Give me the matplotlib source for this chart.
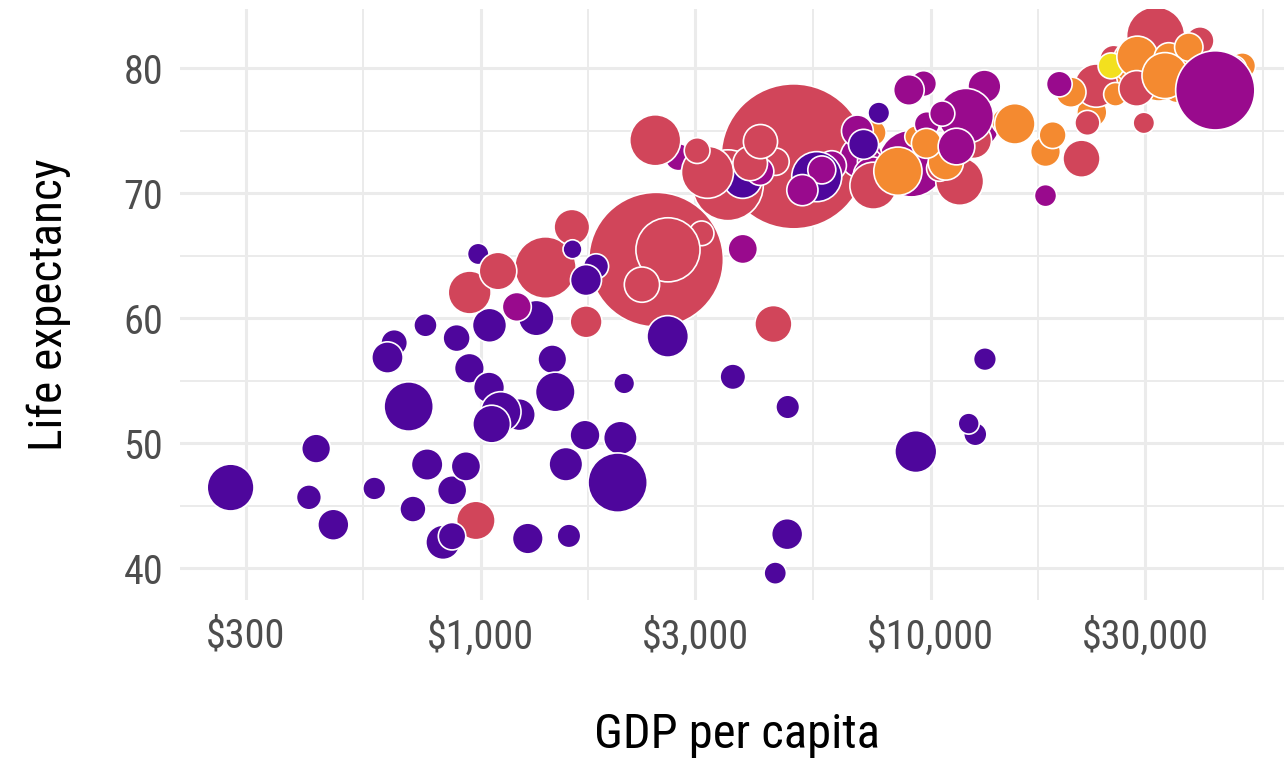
import matplotlib.pyplot as plt
import matplotlib.ticker as mticker
import numpy as np

plt.rcParams['font.family'] = ['Roboto Condensed', 'Liberation Sans Narrow', 'DejaVu Sans']

# gapminder 2007, alphabetical by country (this is also the drawing order)
country = ["Afghanistan", "Albania", "Algeria", "Angola", "Argentina", "Australia", "Austria",
           "Bahrain", "Bangladesh", "Belgium", "Benin", "Bolivia", "Bosnia and Herzegovina",
           "Botswana", "Brazil", "Bulgaria", "Burkina Faso", "Burundi", "Cambodia", "Cameroon",
           "Canada", "Central African Republic", "Chad", "Chile", "China", "Colombia", "Comoros",
           "Congo, Dem. Rep.", "Congo, Rep.", "Costa Rica", "Cote d'Ivoire", "Croatia", "Cuba",
           "Czech Republic", "Denmark", "Djibouti", "Dominican Republic", "Ecuador", "Egypt",
           "El Salvador", "Equatorial Guinea", "Eritrea", "Ethiopia", "Finland", "France", "Gabon",
           "Gambia", "Germany", "Ghana", "Greece", "Guatemala", "Guinea", "Guinea-Bissau", "Haiti",
           "Honduras", "Hong Kong, China", "Hungary", "Iceland", "India", "Indonesia", "Iran", "Iraq",
           "Ireland", "Israel", "Italy", "Jamaica", "Japan", "Jordan", "Kenya", "Korea, Dem. Rep.",
           "Korea, Rep.", "Kuwait", "Lebanon", "Lesotho", "Liberia", "Libya", "Madagascar", "Malawi",
           "Malaysia", "Mali", "Mauritania", "Mauritius", "Mexico", "Mongolia", "Montenegro",
           "Morocco", "Mozambique", "Myanmar", "Namibia", "Nepal", "Netherlands", "New Zealand",
           "Nicaragua", "Niger", "Nigeria", "Norway", "Oman", "Pakistan", "Panama", "Paraguay", "Peru",
           "Philippines", "Poland", "Portugal", "Puerto Rico", "Reunion", "Romania", "Rwanda",
           "Sao Tome and Principe", "Saudi Arabia", "Senegal", "Serbia", "Sierra Leone", "Singapore",
           "Slovak Republic", "Slovenia", "Somalia", "South Africa", "Spain", "Sri Lanka", "Sudan",
           "Swaziland", "Sweden", "Switzerland", "Syria", "Taiwan", "Tanzania", "Thailand", "Togo",
           "Trinidad and Tobago", "Tunisia", "Turkey", "Uganda", "United Kingdom", "United States",
           "Uruguay", "Venezuela", "Vietnam", "West Bank and Gaza", "Yemen, Rep.", "Zambia", "Zimbabwe"]

continent = ["Asia", "Europe", "Africa", "Africa", "Americas", "Oceania", "Europe",
             "Asia", "Asia", "Europe", "Africa", "Americas", "Europe",
             "Africa", "Americas", "Europe", "Africa", "Africa", "Asia", "Africa",
             "Americas", "Africa", "Africa", "Americas", "Asia", "Americas", "Africa",
             "Africa", "Africa", "Americas", "Africa", "Europe", "Americas",
             "Europe", "Europe", "Africa", "Americas", "Americas", "Africa",
             "Americas", "Africa", "Africa", "Africa", "Europe", "Europe", "Africa",
             "Africa", "Europe", "Africa", "Europe", "Americas", "Africa", "Africa", "Americas",
             "Americas", "Asia", "Europe", "Europe", "Asia", "Asia", "Asia", "Asia",
             "Europe", "Asia", "Europe", "Americas", "Asia", "Asia", "Africa", "Asia",
             "Asia", "Asia", "Asia", "Africa", "Africa", "Africa", "Africa", "Africa",
             "Asia", "Africa", "Africa", "Africa", "Americas", "Asia", "Europe",
             "Africa", "Africa", "Asia", "Africa", "Asia", "Europe", "Oceania",
             "Americas", "Africa", "Africa", "Europe", "Asia", "Asia", "Americas", "Americas", "Americas",
             "Asia", "Europe", "Europe", "Americas", "Africa", "Europe", "Africa",
             "Africa", "Asia", "Africa", "Europe", "Africa", "Asia",
             "Europe", "Europe", "Africa", "Africa", "Europe", "Asia", "Africa",
             "Africa", "Europe", "Europe", "Asia", "Asia", "Africa", "Asia", "Africa",
             "Americas", "Africa", "Europe", "Africa", "Europe", "Americas",
             "Americas", "Americas", "Asia", "Asia", "Asia", "Africa", "Africa"]

life_exp = [43.828, 76.423, 72.301, 42.731, 75.32, 81.235, 79.829,
            75.635, 64.062, 79.441, 56.728, 65.554, 74.852,
            50.728, 72.39, 73.005, 52.295, 49.58, 59.723, 50.43,
            80.653, 44.741, 50.651, 78.553, 72.961, 72.889, 65.152,
            46.462, 55.322, 78.782, 48.328, 75.748, 78.273,
            76.486, 78.332, 54.791, 72.235, 74.994, 71.338,
            71.878, 51.579, 58.04, 52.947, 79.313, 80.657, 56.735,
            59.448, 79.406, 60.022, 79.483, 70.259, 56.007, 46.388, 60.916,
            70.198, 82.208, 73.338, 81.757, 64.698, 70.65, 70.964, 59.545,
            78.885, 80.745, 80.546, 72.567, 82.603, 72.535, 54.11, 67.297,
            78.623, 77.588, 71.993, 42.592, 45.678, 73.952, 59.443, 48.303,
            74.241, 54.467, 64.164, 72.801, 76.195, 66.803, 74.543,
            71.164, 42.082, 62.069, 52.906, 63.785, 79.762, 80.204,
            72.899, 56.867, 46.859, 80.196, 75.64, 65.483, 75.537, 71.752, 71.421,
            71.688, 75.563, 78.098, 78.746, 76.442, 72.476, 46.242,
            65.528, 72.777, 63.062, 74.002, 42.568, 79.972,
            74.663, 77.926, 48.159, 49.339, 80.941, 72.396, 58.556,
            39.613, 80.884, 81.701, 74.143, 78.4, 52.517, 70.616, 58.42,
            69.819, 73.923, 71.777, 51.542, 79.425, 78.242,
            76.384, 73.747, 74.249, 73.422, 62.698, 42.384, 43.487]

pop = [31889923, 3600523, 33333216, 12420476, 40301927, 20434176, 8199783,
       708573, 150448339, 10392226, 8078314, 9119152, 4552198,
       1639131, 190010647, 7322858, 14326203, 8390505, 14131858, 17696293,
       33390141, 4369038, 10238807, 16284741, 1318683096, 44227550, 710960,
       64606759, 3800610, 4133884, 18013409, 4493312, 11416987,
       10228744, 5468120, 496374, 9319622, 13755680, 80264543,
       6939688, 551201, 4906585, 76511887, 5238460, 61083916, 1454867,
       1688359, 82400996, 22873338, 10706290, 12572928, 9947814, 1472041, 8502814,
       7483763, 6980412, 9956108, 301931, 1110396331, 223547000, 69453570, 27499638,
       4109086, 6426679, 58147733, 2780132, 127467972, 6053193, 35610177, 23301725,
       49044790, 2505559, 3921278, 2012649, 3193942, 6036914, 19167654, 13327079,
       24821286, 12031795, 3270065, 1250882, 108700891, 2874127, 684736,
       33757175, 19951656, 47761980, 2055080, 28901790, 16570613, 4115771,
       5675356, 12894865, 135031164, 4627926, 3204897, 169270617, 3242173, 6667147, 28674757,
       91077287, 38518241, 10642836, 3942491, 798094, 22276056, 8860588,
       199579, 27601038, 12267493, 10150265, 6144562, 4553009,
       5447502, 2009245, 9118773, 43997828, 40448191, 20378239, 42292929,
       1133066, 9031088, 7554661, 19314747, 23174294, 38139640, 65068149, 5701579,
       1056608, 10276158, 71158647, 29170398, 60776238, 301139947,
       3447496, 26084662, 85262356, 4018332, 22211743, 11746035, 12311143]

gdp_per_cap = [974.58, 5937.03, 6223.37, 4797.23, 12779.38, 34435.37, 36126.49,
               29796.05, 1391.25, 33692.61, 1441.28, 3822.14, 7446.30,
               12569.85, 9065.80, 10680.79, 1217.03, 430.07, 1713.78, 2042.10,
               36319.24, 706.02, 1704.06, 13171.64, 4959.11, 7006.58, 986.15,
               277.55, 3632.56, 9645.06, 1544.75, 14619.22, 8948.10,
               22833.31, 35278.42, 2082.48, 6025.37, 6873.26, 5581.18,
               5728.35, 12154.09, 641.37, 690.81, 33207.08, 30470.02, 13206.48,
               752.75, 32170.37, 1327.61, 27538.41, 5186.05, 942.65, 579.23, 1201.64,
               3548.33, 39724.98, 18008.94, 36180.79, 2452.21, 3540.65, 11605.71, 4471.06,
               40676.00, 25523.28, 28569.72, 7320.88, 31656.07, 4519.46, 1463.25, 1593.07,
               23348.14, 47306.99, 10461.06, 1569.33, 414.51, 12057.50, 1044.77, 759.35,
               12451.66, 1042.58, 1803.15, 10956.99, 11977.57, 3095.77, 9253.90,
               3820.18, 823.69, 944.00, 4811.06, 1091.36, 36797.93, 25185.01,
               2749.32, 619.68, 2013.98, 49357.19, 22316.19, 2605.95, 9809.19, 4172.84, 7408.91,
               3190.48, 15389.92, 20509.65, 19328.71, 7670.12, 10808.48, 863.09,
               1598.44, 21654.83, 1712.47, 9786.53, 862.54, 47143.18,
               18678.31, 25768.26, 926.14, 9269.66, 28821.06, 3970.10, 2602.39,
               4513.48, 33859.75, 37506.42, 4184.55, 28718.28, 1107.48, 7458.40, 882.97,
               18008.51, 7092.92, 8458.28, 1056.38, 33203.26, 42951.65,
               10611.46, 11415.81, 2441.58, 3025.35, 2280.77, 1271.21, 469.71]

continent_colors = {"Africa": "#4E069C", "Americas": "#990A8D", "Asia": "#D1455A",
                    "Europe": "#F48A30", "Oceania": "#F3E01E"}

x_breaks = [300, 1000, 3000, 10000, 30000]
x_labels = ["$300", "$1,000", "$3,000", "$10,000", "$30,000"]
y_breaks = [40, 50, 60, 70, 80]

gdp = np.array(gdp_per_cap)
le = np.array(life_exp)
pp = np.array(pop, dtype=float)

fig = plt.figure(figsize=(12.84, 7.65), dpi=100)
ax = fig.add_axes([180 / 1284, 165 / 765, 1113 / 1284, 591 / 765])

# size: area-style mapping like ggplot scale_size (radius in px)
frac = (pp - pp.min()) / (pp.max() - pp.min())
radius_px = 9.5 + 63 * np.sqrt(frac)
sizes = (2 * radius_px * 0.72) ** 2
colors = [continent_colors[c] for c in continent]

ax.scatter(gdp, le, s=sizes, c=colors, edgecolors='white', linewidths=1.2, zorder=3)

ax.set_xscale('log')
lx = np.log10(gdp)
pad_x = (lx.max() - lx.min()) * 0.05
ax.set_xlim(10 ** (lx.min() - pad_x), 10 ** (lx.max() + pad_x))
pad_y = (le.max() - le.min()) * 0.05
ax.set_ylim(le.min() - pad_y, le.max() + pad_y)

ax.xaxis.set_major_locator(mticker.FixedLocator(x_breaks))
ax.xaxis.set_major_formatter(mticker.FixedFormatter(x_labels))
minor_x = [np.sqrt(a * b) for a, b in zip(x_breaks[:-1], x_breaks[1:])] + [np.sqrt(30000 * 100000)]
ax.xaxis.set_minor_locator(mticker.FixedLocator(minor_x))
ax.xaxis.set_minor_formatter(mticker.NullFormatter())
ax.yaxis.set_major_locator(mticker.FixedLocator(y_breaks))
ax.yaxis.set_minor_locator(mticker.FixedLocator([45, 55, 65, 75, 85]))

ax.grid(True, which='major', color='#EBEBEB', linewidth=2.2, zorder=0)
ax.grid(True, which='minor', color='#EBEBEB', linewidth=1.4, zorder=0)
ax.set_axisbelow(True)
for sp in ax.spines.values():
    sp.set_visible(False)
ax.tick_params(which='both', length=0)
ax.tick_params(axis='x', labelsize=29, labelcolor='#4D4D4D', pad=12)
ax.tick_params(axis='y', labelsize=29, labelcolor='#4D4D4D', pad=12)

ax.set_xlabel("GDP per capita", fontsize=35, color='black', labelpad=40)
ax.set_ylabel("Life expectancy", fontsize=34, color='black', labelpad=38)

fig.savefig("out.png", dpi=100)
